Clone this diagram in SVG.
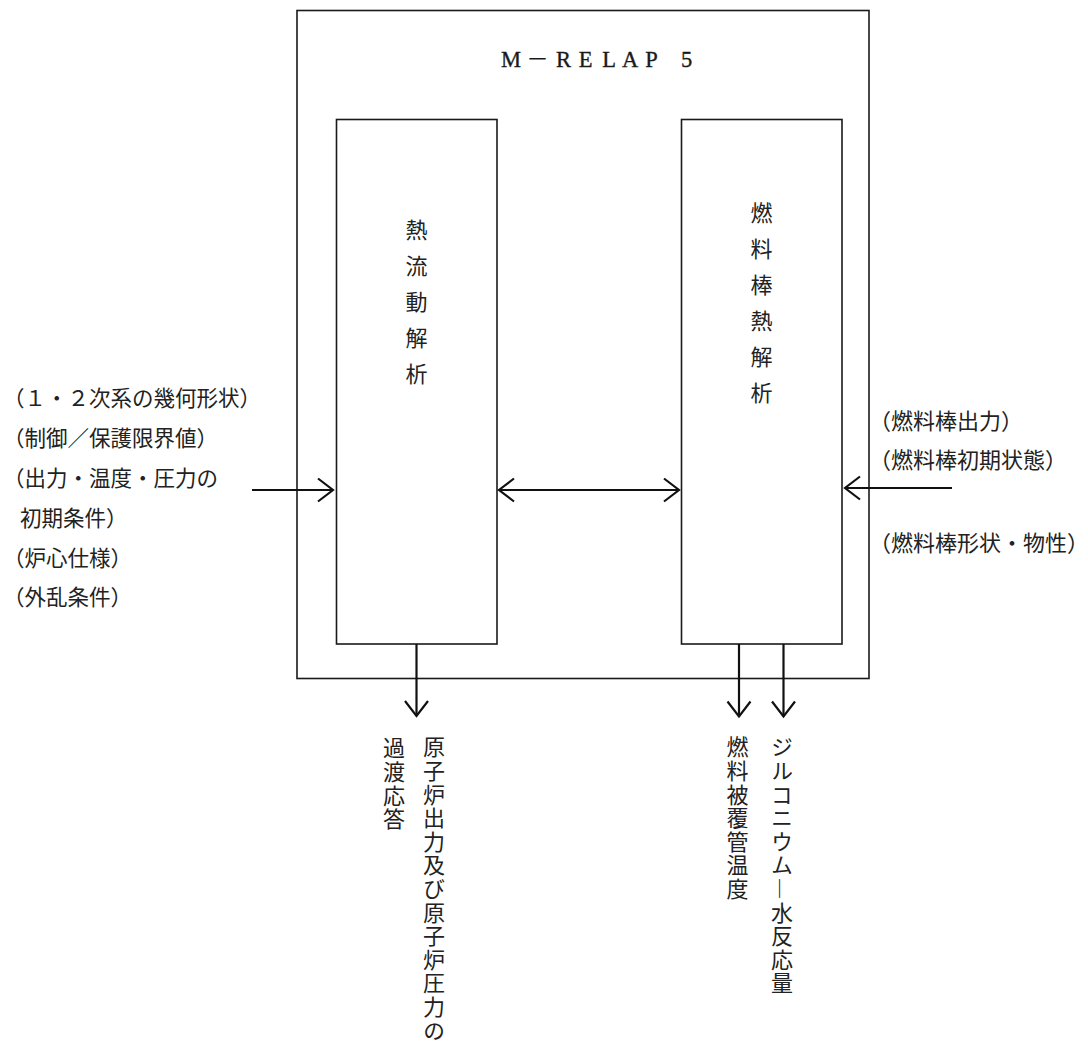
<svg xmlns="http://www.w3.org/2000/svg" width="1088" height="1041" viewBox="0 0 1088 1041">
<style>
.box{fill:none;stroke:#1a1a1a;stroke-width:1.6}
.con{fill:none;stroke:#111;stroke-width:2.2}
.lbl{font-family:"Noto Sans CJK JP","Noto Sans CJK SC",sans-serif;font-size:21.5px;fill:#222}
.lblr{font-family:"Noto Sans CJK JP","Noto Sans CJK SC",sans-serif;font-size:22px;fill:#222}
.vt{font-family:"Noto Sans CJK JP","Noto Sans CJK SC",sans-serif;font-size:22px;fill:#222;writing-mode:vertical-rl;letter-spacing:1.6px}
.bv{font-family:"Noto Sans CJK JP","Noto Sans CJK SC",sans-serif;font-size:22px;fill:#222;writing-mode:vertical-rl;letter-spacing:14px}
.title{font-family:"Liberation Serif",serif;font-size:22.5px;fill:#1a1a1a;stroke:#1a1a1a;stroke-width:0.35;text-anchor:middle}
.dash{font-family:"Noto Sans CJK JP",sans-serif;stroke-width:0}
</style>
<defs>
<marker id="ah" viewBox="-17 -13 19 26" refX="0" refY="0" markerWidth="19" markerHeight="26" markerUnits="userSpaceOnUse" orient="auto-start-reverse">
<path d="M-15,-11.5 L0,0 L-15,11.5" fill="none" stroke="#111" stroke-width="2.2"/>
</marker>
</defs>
<rect width="1088" height="1041" fill="#fff"/>
<g id="mrelap5">
<rect class="box" x="297" y="10.5" width="572" height="668"/>
<text class="title" y="66.5"><tspan x="511">M</tspan><tspan class="dash" x="537.5">－</tspan><tspan x="563.5">R</tspan><tspan x="585.5">E</tspan><tspan x="609">L</tspan><tspan x="630">A</tspan><tspan x="651.5">P</tspan><tspan x="686.5">5</tspan></text>
</g>
<g id="thermal-hydraulic">
<rect class="box" x="336.5" y="119.5" width="160.5" height="524.5"/>
<text class="bv" x="416.5" y="219">熱流動解析</text>
</g>
<g id="fuel-rod">
<rect class="box" x="681.5" y="119.5" width="160.5" height="524.5"/>
<text class="bv" x="761.5" y="202">燃料棒熱解析</text>
</g>
<g id="input-left">
<text class="lbl" x="3" y="406">（１・２次系の幾何形状）</text>
<text class="lbl" x="3" y="446">（制御／保護限界値）</text>
<text class="lbl" x="3" y="486">（出力・温度・圧力の</text>
<text class="lbl" x="20" y="526">初期条件）</text>
<text class="lbl" x="3" y="566">（炉心仕様）</text>
<text class="lbl" x="3" y="605">（外乱条件）</text>
</g>
<g id="input-right">
<text class="lblr" x="869" y="429">（燃料棒出力）</text>
<text class="lblr" x="869" y="468">（燃料棒初期状態）</text>
<text class="lblr" x="869" y="551">（燃料棒形状・物性）</text>
</g>
<g id="output-power">
<text class="vt" x="394" y="737">過渡応答</text>
<text class="vt" x="434" y="736">原子炉出力及び原子炉圧力の</text>
</g>
<g id="output-clad">
<text class="vt" x="737.5" y="736">燃料被覆管温度</text>
</g>
<g id="output-zr">
<text class="vt" x="782" y="736">ジルコニウム―水反応量</text>
</g>
<g id="connectors">
<line class="con" x1="252" y1="490" x2="333" y2="490" marker-end="url(#ah)"/>
<line class="con" x1="499" y1="490" x2="679" y2="490" marker-start="url(#ah)" marker-end="url(#ah)"/>
<line class="con" x1="952" y1="488" x2="845" y2="488" marker-end="url(#ah)"/>
<line class="con" x1="416.5" y1="644" x2="416.5" y2="716" marker-end="url(#ah)"/>
<line class="con" x1="739" y1="644" x2="739" y2="716.5" marker-end="url(#ah)"/>
<line class="con" x1="783.5" y1="644" x2="783.5" y2="716.5" marker-end="url(#ah)"/>
</g>
</svg>
